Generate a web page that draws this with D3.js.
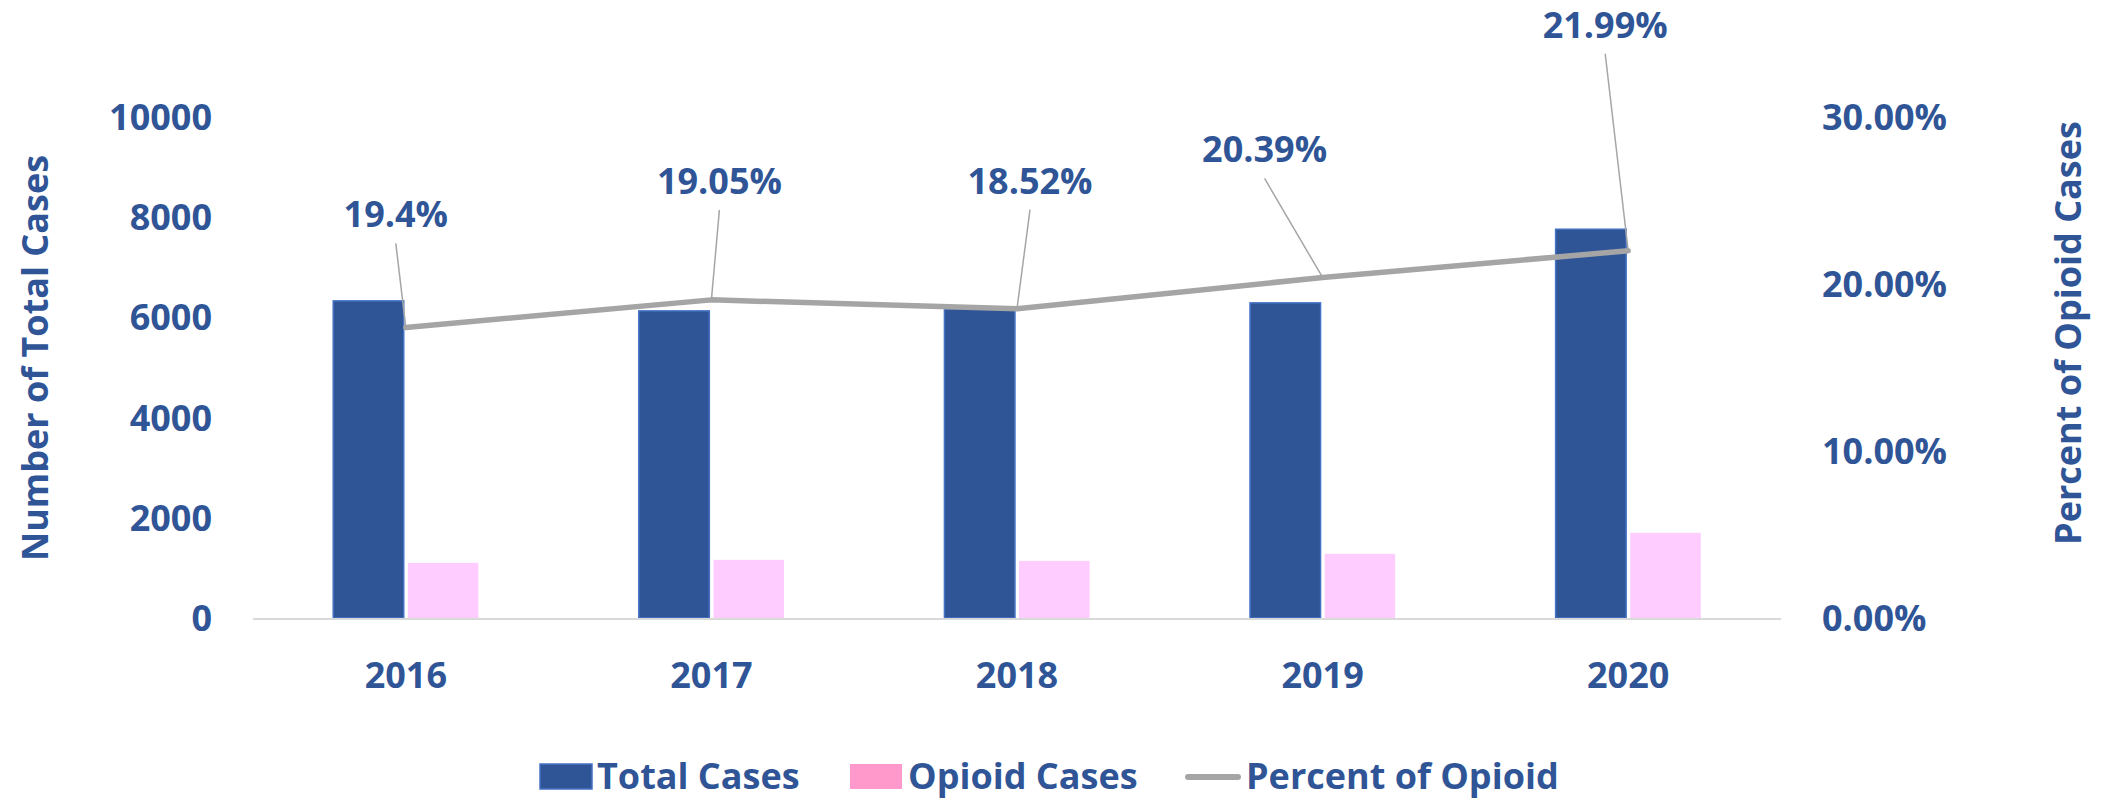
<!DOCTYPE html>
<html>
<head>
<meta charset="utf-8">
<script src="https://cdn.jsdelivr.net/npm/d3@7"></script>
<style>
    body { margin: 0; background: #fff; }
    svg text {
        font-family: "Open Sans", "Noto Sans", sans-serif;
        font-weight: bold;
        fill: #2F5597;
    }
</style>
</head>
<body>
<div id="chart"></div>
<script>
// values
var years = ["2016", "2017", "2018", "2019", "2020"];
var totalCases = [6330, 6130, 6170, 6290, 7760];
var opioidCases = [1100, 1160, 1140, 1280, 1700];
var percentOpioid = [17.4, 19.05, 18.52, 20.39, 21.99];   // where the line is drawn
var percentLabels = ["19.4%", "19.05%", "18.52%", "20.39%", "21.99%"];
var leftTicks = [0, 2000, 4000, 6000, 8000, 10000];
var rightTicks = [0, 10, 20, 30];

// where each percent label sits relative to its point (layout only)
var labelOffsets = [[-10, -113], [8, -119], [13, -128], [-58, -128], [-23, -226]];

var W = 2102, H = 800;
var plot = { left: 253, right: 1781, top: 117, bottom: 618 };

var svg = d3.select("#chart").append("svg")
    .attr("width", W)
    .attr("height", H);

var x0 = d3.scaleBand()
    .domain(years)
    .range([plot.left, plot.right])
    .paddingInner(0.525)
    .paddingOuter(0.2625);

var x1 = d3.scaleBand()
    .domain(["total", "opioid"])
    .range([0, x0.bandwidth()])
    .paddingInner(0.055);

var yLeft = d3.scaleLinear().domain([0, 10000]).range([plot.bottom, plot.top]);
var yRight = d3.scaleLinear().domain([0, 30]).range([plot.bottom, plot.top]);

var rows = years.map(function (y, i) {
    return { year: y, total: totalCases[i], opioid: opioidCases[i], pct: percentOpioid[i], label: percentLabels[i], off: labelOffsets[i] };
});

// left axis labels
svg.append("g").selectAll("text")
    .data(leftTicks)
    .enter().append("text")
    .attr("x", 212)
    .attr("y", function (d) { return yLeft(d); })
    .attr("dy", "0.36em")
    .attr("text-anchor", "end")
    .style("font-size", "36px")
    .text(function (d) { return d; });

// right axis labels
svg.append("g").selectAll("text")
    .data(rightTicks)
    .enter().append("text")
    .attr("x", 1822)
    .attr("y", function (d) { return yRight(d); })
    .attr("dy", "0.36em")
    .attr("text-anchor", "start")
    .style("font-size", "36px")
    .text(function (d) { return d.toFixed(2) + "%"; });

// axis titles
svg.append("text")
    .attr("transform", "translate(35,358) rotate(-90)")
    .attr("dy", "0.36em")
    .attr("text-anchor", "middle")
    .style("font-size", "36px")
    .text("Number of Total Cases");

svg.append("text")
    .attr("transform", "translate(2068,333) rotate(-90)")
    .attr("dy", "0.36em")
    .attr("text-anchor", "middle")
    .style("font-size", "36px")
    .text("Percent of Opioid Cases");

// bars
var groups = svg.append("g").selectAll("g")
    .data(rows)
    .enter().append("g")
    .attr("transform", function (d) { return "translate(" + x0(d.year) + ",0)"; });

groups.append("rect")
    .attr("x", x1("total"))
    .attr("y", function (d) { return yLeft(d.total); })
    .attr("width", x1.bandwidth())
    .attr("height", function (d) { return yLeft(0) - yLeft(d.total); })
    .attr("fill", "#2F5597")
    .attr("stroke", "#4472C4")
    .attr("stroke-width", 1.5);

groups.append("rect")
    .attr("x", x1("opioid"))
    .attr("y", function (d) { return yLeft(d.opioid); })
    .attr("width", x1.bandwidth())
    .attr("height", function (d) { return yLeft(0) - yLeft(d.opioid); })
    .attr("fill", "#FFCCFF");

// baseline
svg.append("line")
    .attr("x1", plot.left).attr("x2", plot.right)
    .attr("y1", plot.bottom + 1).attr("y2", plot.bottom + 1)
    .attr("stroke", "#D9D9D9")
    .attr("stroke-width", 2);

// x labels
svg.append("g").selectAll("text")
    .data(years)
    .enter().append("text")
    .attr("x", function (d) { return x0(d) + x0.bandwidth() / 2; })
    .attr("y", 675)
    .attr("dy", "0.36em")
    .attr("text-anchor", "middle")
    .style("font-size", "36px")
    .text(function (d) { return d; });

// percent line
var cx = function (d) { return x0(d.year) + x0.bandwidth() / 2; };
var cy = function (d) { return yRight(d.pct); };

svg.append("path")
    .datum(rows)
    .attr("d", d3.line().x(cx).y(cy))
    .attr("fill", "none")
    .attr("stroke", "#A5A5A5")
    .attr("stroke-width", 5.5)
    .attr("stroke-linecap", "round")
    .attr("stroke-linejoin", "round");

// leader lines and labels
svg.append("g").selectAll("line")
    .data(rows)
    .enter().append("line")
    .attr("x1", function (d) { return cx(d) + d.off[0]; })
    .attr("y1", function (d) { return cy(d) + d.off[1] + 29; })
    .attr("x2", cx)
    .attr("y2", cy)
    .attr("stroke", "#A5A5A5")
    .attr("stroke-width", 1.5);

svg.append("g").selectAll("text")
    .data(rows)
    .enter().append("text")
    .attr("x", function (d) { return cx(d) + d.off[0]; })
    .attr("y", function (d) { return cy(d) + d.off[1]; })
    .attr("dy", "0.36em")
    .attr("text-anchor", "middle")
    .style("font-size", "36px")
    .text(function (d) { return d.label; });

// legend
var legend = svg.append("g");
var ly = 776;

legend.append("rect")
    .attr("x", 540).attr("y", ly - 12).attr("width", 52).attr("height", 25)
    .attr("fill", "#2F5597").attr("stroke", "#4472C4").attr("stroke-width", 1.5);
legend.append("text")
    .attr("x", 597).attr("y", ly).attr("dy", "0.36em")
    .style("font-size", "36px").text("Total Cases");

legend.append("rect")
    .attr("x", 850).attr("y", ly - 12).attr("width", 52).attr("height", 25)
    .attr("fill", "#FF99CC");
legend.append("text")
    .attr("x", 908).attr("y", ly).attr("dy", "0.36em")
    .style("font-size", "36px").text("Opioid Cases");

legend.append("line")
    .attr("x1", 1188).attr("x2", 1238).attr("y1", ly + 1).attr("y2", ly + 1)
    .attr("stroke", "#A5A5A5").attr("stroke-width", 6).attr("stroke-linecap", "round");
legend.append("text")
    .attr("x", 1246).attr("y", ly).attr("dy", "0.36em")
    .style("font-size", "36px").text("Percent of Opioid");
</script>
</body>
</html>
